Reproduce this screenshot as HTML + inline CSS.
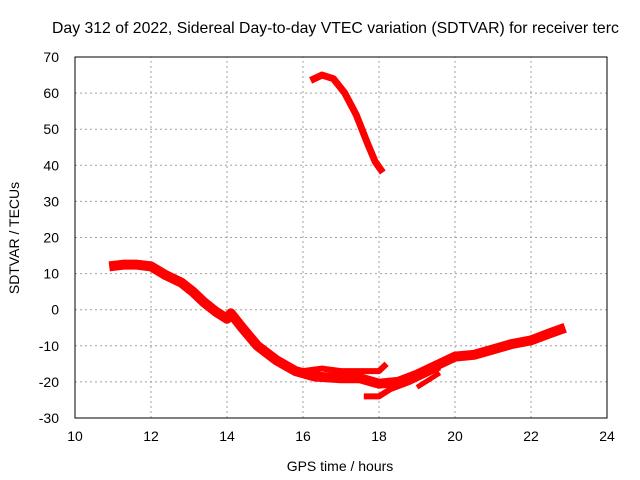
<!DOCTYPE html>
<html><head><meta charset="utf-8"><style>
body{margin:0;background:#fff;overflow:hidden}
svg{display:block;font-family:"Liberation Sans",sans-serif}
</style></head><body>
<svg id="c" width="640" height="480"></svg>
<script>
const xTicks=[10,12,14,16,18,20,22,24];
const yTicks=[-30,-20,-10,0,10,20,30,40,50,60,70];
const mainX=[10.9,11.3,11.6,12,12.4,12.8,13.1,13.4,13.7,14,14.1,14.4,14.8,15.3,15.8,16.3,17,17.5,18,18.5,19,19.5,20,20.5,21,21.5,22,22.5,22.9];
const mainY=[12,12.5,12.5,12,9.5,7.5,5,2,-0.5,-2.5,-1,-5,-10,-14,-17,-18.5,-19,-19,-20.5,-20,-18,-15.5,-13,-12.5,-11,-9.5,-8.5,-6.5,-5];
const upperX=[16,16.5,17,17.5,18,18.2];
const upperY=[-17,-16.3,-17,-17,-17,-15];
const lowerX=[17.6,18,18.3,18.8,19.2,19.6];
const lowerY=[-24,-24,-22,-20,-18,-16];
const branchX=[19,19.3,19.6];
const branchY=[-21.5,-19.5,-17.5];
const arcX=[16.2,16.5,16.8,17.1,17.4,17.7,17.9,18.1];
const arcY=[63.5,65,64,60,54,46,41,38];
const X0=75,X1=607,Y0=418,Y1=57;
const sx=v=>X0+(v-10)/14*(X1-X0);
const sy=v=>Y0-(v+30)/100*(Y0-Y1);
const svg=document.getElementById('c');
const NS='http://www.w3.org/2000/svg';
function mk(t,a){const e=document.createElementNS(NS,t);for(const k in a)e.setAttribute(k,a[k]);svg.appendChild(e);return e;}
xTicks.forEach(v=>{
 if(v>10&&v<24){const g=mk('line',{x1:sx(v),x2:sx(v),y1:Y0,y2:Y1,stroke:'#a0a0a0','stroke-dasharray':'2,3'});
 
 }
 const t=mk('text',{x:sx(v),y:Y0+23,'text-anchor':'middle','font-size':14});t.textContent=v;
 
 
});
yTicks.forEach(v=>{
 if(v>-30&&v<70){const g=mk('line',{x1:X0,x2:X1,y1:sy(v),y2:sy(v),stroke:'#a0a0a0','stroke-dasharray':'2,3'});
 
 }
 const t=mk('text',{x:X0-16,y:sy(v)+5,'text-anchor':'end','font-size':14});t.textContent=v;
 
 
});
const f=mk('rect',{x:X0,y:Y1,width:X1-X0,height:Y0-Y1,fill:'none',stroke:'#000'});


function line(xs,ys,w,name){
 const p=mk('polyline',{points:xs.map((x,i)=>sx(x)+','+sy(ys[i])).join(' '),fill:'none',stroke:'#ff0000','stroke-width':w,'stroke-linejoin':'round'});
 
 
}
line(mainX,mainY,10,'main-series');
line(upperX,upperY,6,'upper-branch-series');
line(lowerX,lowerY,6,'lower-branch-series');
line(branchX,branchY,5,'side-branch-series');
line(arcX,arcY,7,'arc-series');
const tt=mk('text',{x:52,y:33,'font-size':15.8});tt.textContent='Day 312 of 2022, Sidereal Day-to-day VTEC variation (SDTVAR) for receiver terc';


const xl=mk('text',{x:340,y:471,'text-anchor':'middle','font-size':14});xl.textContent='GPS time / hours';


const yl=mk('text',{x:0,y:0,'text-anchor':'middle','font-size':14,transform:'translate(19,238) rotate(-90)'});yl.textContent='SDTVAR / TECUs';


</script>
</body></html>
